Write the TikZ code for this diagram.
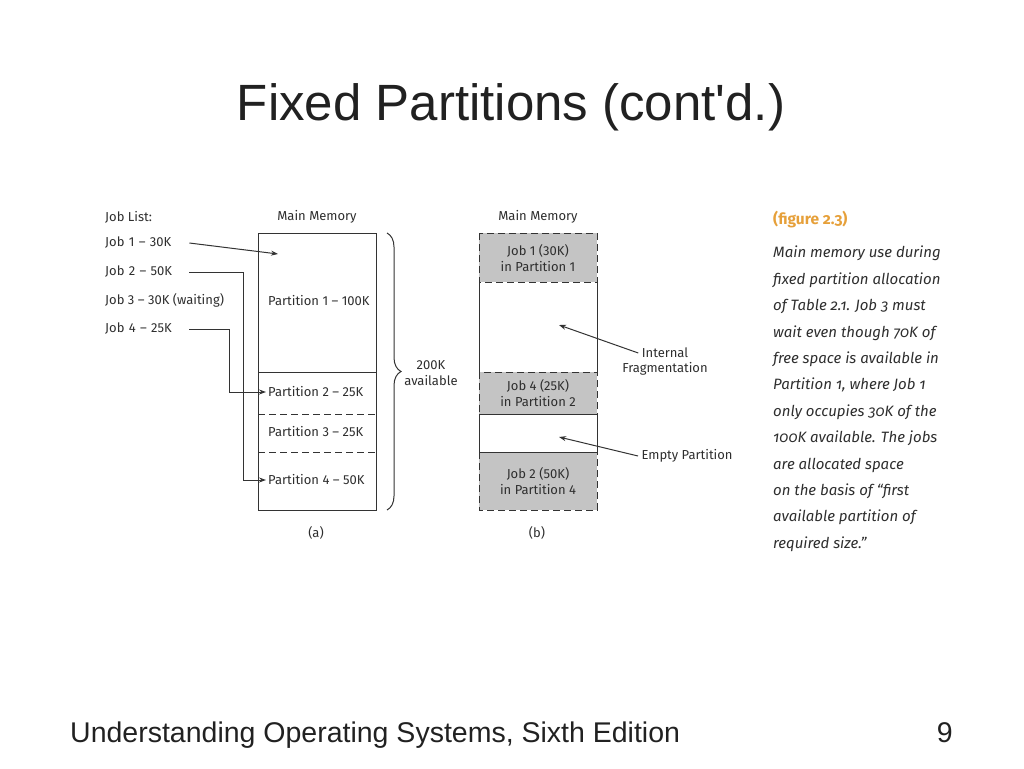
\documentclass[tikz,border=0pt]{standalone}
\usepackage{fontspec}
\setmainfont{Liberation Sans}
\newfontfamily\figfont{Fira Sans}
\newfontfamily\capfont{Fira Sans}[Numbers=OldStyle]
\usepackage{tikz}
\usetikzlibrary{arrows.meta,backgrounds,decorations.pathreplacing}
\definecolor{txt}{HTML}{2E2E2E}
\definecolor{ln}{HTML}{333333}
\definecolor{used}{HTML}{C4C4C4}
\definecolor{figorange}{HTML}{E6A03A}
\tikzstyle{jobtext}=[anchor=west, inner sep=0pt, text=txt, font=\figfont\fontsize{13}{15}\selectfont]
\tikzstyle{job}=[jobtext, text width=84pt, align=left]
\tikzstyle{part}=[anchor=west, inner sep=2pt, text=txt, font=\figfont\fontsize{13}{15}\selectfont]
\tikzstyle{label}=[text=txt, align=center, font=\figfont\fontsize{13}{16}\selectfont]
\tikzstyle{conn}=[draw=ln, line width=1pt, -{Stealth[length=7pt,width=5pt]}]
\tikzstyle{wall}=[draw=ln, line width=1pt]
\tikzstyle{cut}=[draw=ln, line width=1pt, dash pattern=on 7pt off 4pt]

\begin{document}
\begin{tikzpicture}[x=1pt,y=-1pt]
\useasboundingbox (0,0) rectangle (1024,768);
%Title and footer
\node[text=black!87, font=\fontsize{51}{60}\selectfont] (title) at (511,107){Fixed Partitions (cont\textquotesingle d.)};
\node[anchor=base west, inner sep=0pt, text=black!87, font=\fontsize{28.5}{34}\selectfont] (foot) at (70,742){Understanding Operating Systems, Sixth Edition};
\node[anchor=base east, inner sep=0pt, text=black!87, font=\fontsize{28.5}{34}\selectfont] (page) at (953,742){9};

%Job list
\node[jobtext] (jl) at (105,217){Job List:};
\node[job] (j1) at (105,243){Job 1 \textendash{} 30K};
\node[job] (j2) at (105,272){Job 2 \textendash{} 50K};
\node[jobtext] (j3) at (105,300){Job 3 \textendash{} 30K (waiting)};
\node[job] (j4) at (105,329){Job 4 \textendash{} 25K};

%Memory (a)
\node[label] (mma) at (317,217){Main Memory};
\draw[wall] (258,233) rectangle (376,510);
\draw[wall] (258,372) -- (376,372);
\draw[cut] (258,414) -- (376,414);
\draw[cut] (258,452) -- (376,452);
\node[part] (p1) at (266,301){Partition 1 \textendash{} 100K};
\node[part] (p2) at (266,392){Partition 2 \textendash{} 25K};
\node[part] (p3) at (266,432){Partition 3 \textendash{} 25K};
\node[part] (p4) at (266,480){Partition 4 \textendash{} 50K};
\coordinate (p1in) at (278,254);
\draw[decorate, decoration={brace, amplitude=14pt}, line width=1pt, draw=ln] (387,233) -- (387,510);
\node[label] (avail) at (431,373){200K\\available};
\node[label] (la) at (316,533){(a)};

%Job arrows
\draw[conn] (j1.east) -- (p1in);
\draw[conn] (j2.east) -- ++(54,0) |- (p4.west);
\draw[conn] (j4.east) -- ++(40,0) |- (p2.west);

%Memory (b)
\node[label] (mmb) at (538,217){Main Memory};
\begin{scope}[on background layer]
\fill[used] (479,233) rectangle (597,282);
\fill[used] (479,372) rectangle (597,414);
\fill[used] (479,452) rectangle (597,510);
\end{scope}
\draw[cut] (479,233) rectangle (597,282);
\draw[cut] (479,372) rectangle (597,414);
\draw[cut] (479,452) rectangle (597,510);
\draw[wall] (479,282) -- (479,372);
\draw[wall] (597,282) -- (597,372);
\draw[wall] (479,414) rectangle (597,452);
\node[label] (b1) at (538,258){Job 1 (30K)\\in Partition 1};
\node[label] (b2) at (538,393){Job 4 (25K)\\in Partition 2};
\node[label] (b3) at (538,481){Job 2 (50K)\\in Partition 4};
\node[label] (lb) at (537,533){(b)};

%Fragmentation labels
\node[label] (fi) at (665,353){Internal};
\node[label] (ff) at (665,369){Fragmentation};
\coordinate (holein) at (559,325);
\draw[conn] (fi.west) -- (holein);
\node[label, anchor=west] (empty) at (638,456){Empty Partition};
\coordinate (emptyin) at (559,437);
\draw[conn] (empty.west) -- (emptyin);

%Caption
\node[anchor=base west, inner sep=0pt, text=figorange, font=\capfont\bfseries\fontsize{15.5}{17}\selectfont] (fig) at (773,224){(figure 2.3)};
\node[anchor=north west, inner sep=0pt, align=left, text=txt, font=\capfont\itshape\fontsize{15}{26.4}\selectfont] (cap) at (773,246){Main memory use during\\fixed partition allocation\\of Table 2.1. Job 3 must\\wait even though 70K of\\free space is available in\\Partition 1, where Job 1\\only occupies 30K of the\\100K available. The jobs\\are allocated space\\on the basis of \textquotedblleft first\\available partition of\\required size.\textquotedblright};
\end{tikzpicture}
\end{document}
